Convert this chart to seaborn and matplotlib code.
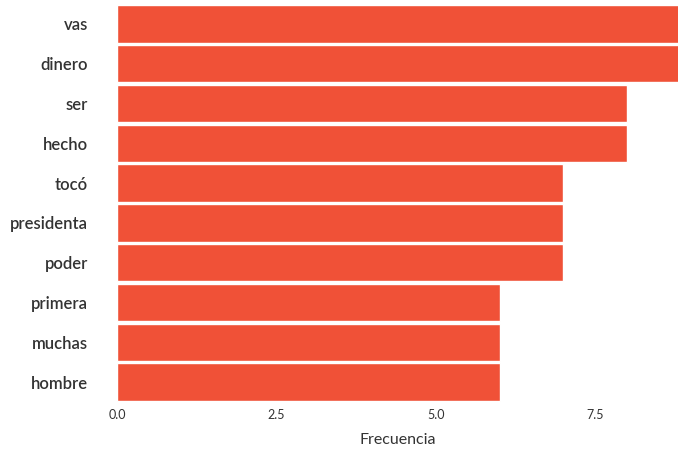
import matplotlib
matplotlib.use("Agg")
import matplotlib.pyplot as plt
import seaborn as sns
import pandas as pd

palabras = ["vas", "dinero", "ser", "hecho", "tocó", "presidenta", "poder",
            "primera", "muchas", "hombre"]
frecuencia = [9, 9, 8, 8, 7, 7, 7, 6, 6, 6]
xticks = [0.0, 2.5, 5.0, 7.5]
xlabels = ["0.0", "2.5", "5.0", "7.5"]

df = pd.DataFrame({"palabra": palabras, "n": frecuencia})

sns.set_theme(style="white")
plt.rcParams["font.family"] = ["Lato", "DejaVu Sans"]

fig = plt.figure(figsize=(6.78, 4.49), dpi=100)
ax = fig.add_axes([117 / 678, 1 - 402 / 449, 1 - 117 / 678, 398 / 449])

sns.barplot(data=df, x="n", y="palabra", order=palabras, color="#f05137",
            saturation=1, width=0.94, ax=ax)

ax.set_xlim(0, 8.8)
ax.set_ylim(9.5, -0.5)
ax.set_xticks(xticks)
ax.set_xticklabels(xlabels, fontsize=9, color="#333333")
ax.set_xlabel("Frecuencia", fontsize=11.5, color="#333333", labelpad=9)
ax.set_ylabel("")
ax.tick_params(axis="y", labelsize=12, labelcolor="#333333", length=0, pad=21)
ax.tick_params(axis="x", length=0, pad=5)
for lab in ax.get_yticklabels():
    lab.set_fontweight("semibold")
sns.despine(ax=ax, left=True, bottom=True)

fig.savefig("out.png", dpi=100)
